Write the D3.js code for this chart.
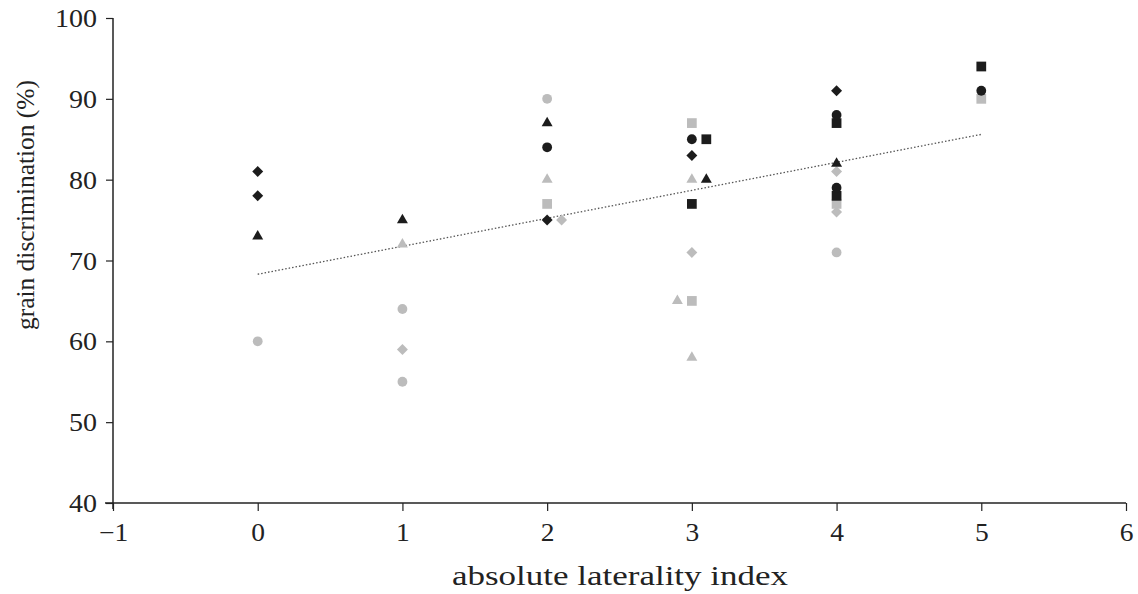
<!DOCTYPE html>
<html>
<head>
<meta charset="utf-8">
<script src="https://cdn.jsdelivr.net/npm/d3@7"></script>
<style>
html,body{margin:0;padding:0;background:#fff;}
svg text{font-family:"Liberation Serif","DejaVu Serif",serif;fill:#222;}
</style>
</head>
<body>
<svg id="chart" width="1138" height="594"></svg>
<script>
// ---- data ----
const blackDiamondX = [0, 0, 2, 3, 4];
const blackDiamondY = [81, 78, 75, 83, 91];
const blackTriangleX = [0, 1, 2, 3.1, 4];
const blackTriangleY = [73, 75, 87, 80, 82];
const blackCircleX = [2, 3, 4, 4, 5];
const blackCircleY = [84, 85, 88, 79, 91];
const blackSquareX = [3.1, 3, 4, 4, 5];
const blackSquareY = [85, 77, 87, 78, 94];
const greyCircleX = [0, 1, 1, 2, 4];
const greyCircleY = [60, 64, 55, 90, 71];
const greyDiamondX = [1, 2.1, 3, 4, 4];
const greyDiamondY = [59, 75, 71, 81, 76];
const greyTriangleX = [1, 2, 3, 2.9, 3];
const greyTriangleY = [72, 80, 80, 65, 58];
const greySquareX = [2, 3, 3, 4, 5];
const greySquareY = [77, 87, 65, 77, 90];
const trendX = [0, 5];
const trendY = [68.3, 85.6];
const xTicks = [-1, 0, 1, 2, 3, 4, 5, 6];
const yTicks = [40, 50, 60, 70, 80, 90, 100];
const xTitle = "absolute laterality index";
const yTitle = "grain discrimination (%)";

// ---- layout ----
const svg = d3.select("#chart");
const mLeft = 113, mRight = 1126, mTop = 18, mBottom = 503;
const x = d3.scaleLinear().domain([-1, 6]).range([mLeft, mRight]);
const y = d3.scaleLinear().domain([40, 100]).range([mBottom, mTop]);

const BLACK = "#1c1c1c", GREY = "#bcbcbc";

function stretch(sel, f) {
  sel.each(function () {
    const w = this.getComputedTextLength();
    d3.select(this).attr("textLength", w * f).attr("lengthAdjust", "spacingAndGlyphs");
  });
}

// axes
const xAxis = d3.axisBottom(x).tickValues(xTicks).tickSize(8).tickSizeOuter(0)
  .tickFormat(d => d < 0 ? "\u2212" + Math.abs(d) : d);
const gx = svg.append("g").attr("transform", `translate(0,${mBottom})`).call(xAxis);
gx.select(".domain").attr("stroke", "#222").attr("stroke-width", 1.5).attr("d", `M${mLeft - 8},0H${mRight}`);
gx.selectAll(".tick line").attr("stroke", "#222").attr("stroke-width", 1.2);
gx.selectAll(".tick text").attr("font-size", 25).attr("y", 20).attr("dy", "0.71em").attr("fill", "#222")
  .call(stretch, 1.1);

const yAxis = d3.axisLeft(y).tickValues(yTicks).tickSize(7).tickSizeOuter(0);
const gy = svg.append("g").attr("transform", `translate(${mLeft},0)`).call(yAxis);
gy.select(".domain").attr("stroke", "#222").attr("stroke-width", 1.5).attr("d", `M0,${mTop}V${mBottom + 6}`);
gy.selectAll(".tick line").attr("stroke", "#222").attr("stroke-width", 1.2);
gy.selectAll(".tick text").attr("font-size", 25).attr("x", -16).attr("dy", "0.34em").attr("fill", "#222")
  .call(stretch, 1.12);

// titles
svg.append("text").attr("x", 620).attr("y", 585)
  .attr("text-anchor", "middle").attr("font-size", 28).text(xTitle)
  .attr("textLength", 336).attr("lengthAdjust", "spacingAndGlyphs");
svg.append("text").attr("transform", `translate(34,205) rotate(-90)`)
  .attr("text-anchor", "middle").attr("font-size", 26).text(yTitle)
  .attr("textLength", 250).attr("lengthAdjust", "spacingAndGlyphs");

// trend line
svg.append("path")
  .datum(trendX.map((d, i) => [d, trendY[i]]))
  .attr("d", d3.line().x(d => x(d[0])).y(d => y(d[1])))
  .attr("fill", "none").attr("stroke", "#555").attr("stroke-width", 1.3)
  .attr("stroke-dasharray", "1.5 2");

// markers
const shapes = {
  circle: { type: d3.symbolCircle, size: Math.PI * 4.9 * 4.9, rot: 0 },
  square: { type: d3.symbolSquare, size: 95, rot: 0 },
  diamond: { type: d3.symbolSquare, size: 60, rot: 45 },
  triangle: { type: d3.symbolTriangle, size: 52, rot: 0 }
};
const series = [
  { xs: greyCircleX, ys: greyCircleY, shape: "circle", color: GREY },
  { xs: greyDiamondX, ys: greyDiamondY, shape: "diamond", color: GREY },
  { xs: greyTriangleX, ys: greyTriangleY, shape: "triangle", color: GREY },
  { xs: greySquareX, ys: greySquareY, shape: "square", color: GREY },
  { xs: blackSquareX, ys: blackSquareY, shape: "square", color: BLACK },
  { xs: blackCircleX, ys: blackCircleY, shape: "circle", color: BLACK },
  { xs: blackTriangleX, ys: blackTriangleY, shape: "triangle", color: BLACK },
  { xs: blackDiamondX, ys: blackDiamondY, shape: "diamond", color: BLACK }
];
series.forEach(s => {
  const sh = shapes[s.shape];
  const sym = d3.symbol().type(sh.type).size(sh.size);
  svg.append("g").selectAll("path")
    .data(s.xs.map((d, i) => [d, s.ys[i]]))
    .join("path")
    .attr("d", sym)
    .attr("transform", d => `translate(${x(d[0])},${y(d[1])}) rotate(${sh.rot})`)
    .attr("fill", s.color);
});
</script>
</body>
</html>
